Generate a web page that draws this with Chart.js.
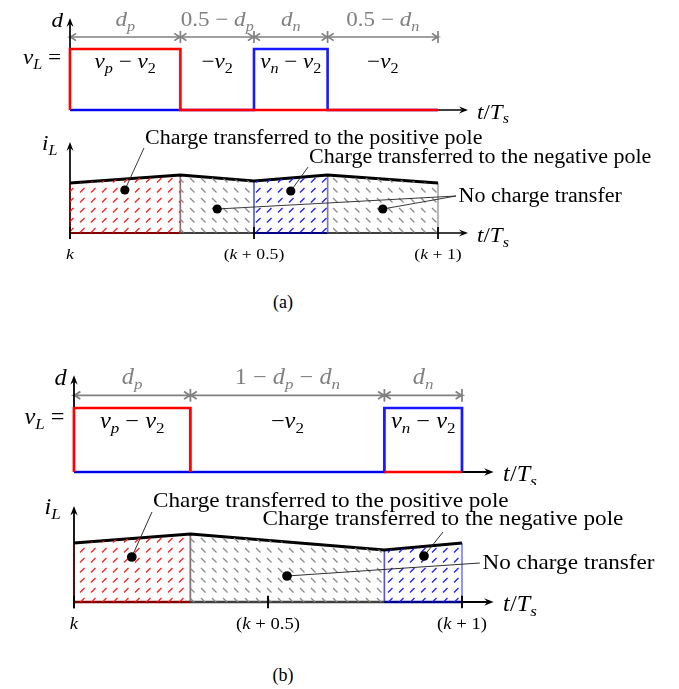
<!DOCTYPE html>
<html>
<head>
<meta charset="utf-8">
<script src="https://cdn.jsdelivr.net/npm/chart.js@4.4.1/dist/chart.umd.min.js"></script>
<style>
  body { margin: 0; background: #fff; }
  #fig { position: relative; width: 679px; height: 689px; overflow: hidden; }
  #fig canvas { position: absolute; left: 0; }
  .cap { position: absolute; font: 18px "Liberation Serif", serif; line-height: 18px; transform: translateX(-50%); }
</style>
</head>
<body>
<div id="fig">
  <canvas id="aTop" width="679" height="125" style="top:0"></canvas>
  <canvas id="aBot" width="679" height="160" style="top:125px"></canvas>
  <canvas id="bTop" width="679" height="130" style="top:355px"></canvas>
  <canvas id="bBot" width="679" height="165" style="top:485px"></canvas>
  <div class="cap" style="left:283px;top:293px">(a)</div>
  <div class="cap" style="left:283px;top:666px">(b)</div>
</div>
<script>
// ---- data (time in t/Ts, voltage and current normalized) ----
// (a) positive and negative pole each in its own half period
const edgesA = [0, 0.3, 0.5, 0.7, 1.0];
const currentA = [0.50, 0.58, 0.52, 0.58, 0.50];
const regionsA = ['pos', 'none', 'neg', 'none'];
const spanLabelsA = ['d_p', '0.5 − d_p', 'd_n', '0.5 − d_n'];
const voltLabelsA = ['v_p − v_2', '−v_2', 'v_n − v_2', '−v_2'];
const redWaveA = [[0, 0], [0, 1], [0.3, 1], [0.3, 0], [1, 0]];
const blueWaveA = [[0, 0], [0.5, 0], [0.5, 1], [0.7, 1], [0.7, 0], [1, 0]];

// (b) both poles in one period
const edgesB = [0, 0.3, 0.8, 1.0];
const currentB = [0.59, 0.68, 0.52, 0.59];
const regionsB = ['pos', 'none', 'neg'];
const spanLabelsB = ['d_p', '1 − d_p − d_n', 'd_n'];
const voltLabelsB = ['v_p − v_2', '−v_2', 'v_n − v_2'];
const redWaveB = [[0, 0], [0, 1], [0.3, 1], [0.3, 0], [0.3, null], [0.8, 0], [1, 0]];
const blueWaveB = [[0, 0], [0.8, 0], [0.8, 1], [1, 1], [1, 0]];

const tickValues = [0, 0.5, 1];
const tickLabels = ['k', '(k + 0.5)', '(k + 1)'];

const calloutText = ['Charge transferred to the positive pole',
                     'Charge transferred to the negative pole',
                     'No charge transfer'];
const calloutDotsA = [[[0.149, 0.43]], [[0.60, 0.42]], [[0.40, 0.24], [0.85, 0.24]]];
const calloutEndsA = [[0.201, 0.85], [0.647, 0.66], [1.049, 0.37]];
const calloutDotsB = [[[0.149, 0.45]], [[0.902, 0.46]], [[0.549, 0.26]]];
const calloutEndsB = [[0.201, 0.90], [0.951, 0.70], [1.046, 0.39]];

// ---- drawing helpers ----
const SERIF = '"Liberation Serif", "Times New Roman", serif';
const GRAY = '#808080';

function drawText(ctx, str, x, y, size, align, color, stretch, plain) {
  const runs = [];
  if (plain) runs.push({ ch: str, sub: false, it: false });
  else for (let i = 0; i < str.length; i++) {
    let ch = str[i], sub = false;
    if (ch === '_') { sub = true; ch = str[++i]; }
    runs.push({ ch, sub, it: /[A-Za-z]/.test(ch) });
  }
  const font = r => (r.it ? 'italic ' : '') + (r.sub ? size * 0.7 : size) + 'px ' + SERIF;
  let w = 0;
  runs.forEach(r => { ctx.font = font(r); r.w = ctx.measureText(r.ch).width * stretch; w += r.w; });
  let cx = align === 'right' ? x - w : align === 'center' ? x - w / 2 : x;
  ctx.save();
  ctx.fillStyle = color;
  ctx.textAlign = 'left';
  ctx.textBaseline = 'alphabetic';
  runs.forEach(r => {
    ctx.font = font(r);
    ctx.save();
    ctx.translate(cx, y + (r.sub ? size * 0.22 : 0));
    ctx.scale(stretch, 1);
    ctx.fillText(r.ch, 0, 0);
    ctx.restore();
    cx += r.w;
  });
  ctx.restore();
}

function seg(ctx, x1, y1, x2, y2) {
  ctx.beginPath(); ctx.moveTo(x1, y1); ctx.lineTo(x2, y2); ctx.stroke();
}

// filled arrow tip pointing along (dx, dy)
function arrowHead(ctx, x, y, dx, dy, s) {
  const len = 9 * s, wid = 7 * s, px = -dy, py = dx;
  ctx.beginPath();
  ctx.moveTo(x, y);
  ctx.lineTo(x - dx * len + px * wid / 2, y - dy * len + py * wid / 2);
  ctx.lineTo(x - dx * len * 0.65, y - dy * len * 0.65);
  ctx.lineTo(x - dx * len - px * wid / 2, y - dy * len - py * wid / 2);
  ctx.closePath();
  ctx.fill();
}

// open barb for the dimension arrows
function barb(ctx, x, y, dir, len) {
  ctx.beginPath();
  ctx.moveTo(x - dir * len, y - len * 0.6);
  ctx.quadraticCurveTo(x - dir * len * 0.35, y - len * 0.1, x, y);
  ctx.quadraticCurveTo(x - dir * len * 0.35, y + len * 0.1, x - dir * len, y + len * 0.6);
  ctx.stroke();
}

function axes(ctx, x0, yb, tipY, tipX, s, below) {
  ctx.save();
  ctx.strokeStyle = '#000'; ctx.fillStyle = '#000'; ctx.lineWidth = 1.7 * s;
  seg(ctx, x0, yb + below, x0, tipY + 4 * s);
  seg(ctx, x0, yb, tipX - 4 * s, yb);
  arrowHead(ctx, x0, tipY, 0, -1, s);
  arrowHead(ctx, tipX, yb, 1, 0, s);
  ctx.restore();
}

function hatch(color, dir) {
  const tile = document.createElement('canvas');
  tile.width = 11; tile.height = 10;
  const g = tile.getContext('2d');
  g.strokeStyle = color; g.lineWidth = 1.3;
  g.beginPath();
  if (dir > 0) { g.moveTo(3, 7.5); g.lineTo(7.5, 3); } else { g.moveTo(3, 3); g.lineTo(7.5, 7.5); }
  g.stroke();
  return g.createPattern(tile, 'repeat');
}

const STYLE = {
  pos:  { fill: hatch('#ff1a1a', 1),  base: '#800000', side: 'rgba(140,0,0,0.75)' },
  neg:  { fill: hatch('#1a1aff', 1),  base: '#000080', side: 'rgba(60,60,255,0.75)' },
  none: { fill: hatch('#8a8a8a', -1), base: '#404040', side: 'rgba(128,128,128,0.8)' }
};

function baseOptions(box) {
  return {
    responsive: false,
    animation: false,
    devicePixelRatio: 1,
    events: [],
    layout: { padding: { left: box.x0, right: 679 - box.x1, top: box.top, bottom: box.h - box.base } },
    plugins: { legend: { display: false }, tooltip: { enabled: false } },
    scales: {
      x: { type: 'linear', min: 0, max: 1, display: false },
      y: { min: 0, max: 1, display: false }
    }
  };
}

const xy = arr => arr.map(p => ({ x: p[0], y: p[1] }));

function voltageChart(id, box, s, d) {
  const wave = (pts, color) => ({
    data: xy(pts), borderColor: color, borderWidth: 2.6 * s, pointRadius: 0, fill: false,
    tension: 0, clip: false, borderJoinStyle: 'miter', borderCapStyle: 'butt'
  });
  return new Chart(document.getElementById(id), {
    type: 'line',
    data: { datasets: [wave(d.red, '#ff0000'), wave(d.blue, 'rgba(0,0,255,0.9)')] },
    options: baseOptions(box),
    plugins: [{
      id: 'decoTop',
      beforeDatasetsDraw(chart) {
        const { ctx, scales: { x, y } } = chart;
        const X = v => x.getPixelForValue(v), Y = v => y.getPixelForValue(v);
        const x0 = X(0), yb = Y(0), yt = Y(1), dy = yt - 12 * s;
        ctx.save();
        ctx.strokeStyle = GRAY; ctx.lineWidth = 1.7 * s;
        d.edges.slice(0, -1).forEach((e, i) => {
          const xa = X(e), xb = X(d.edges[i + 1]);
          seg(ctx, xa, dy, xb, dy);
          barb(ctx, xa, dy, -1, 6 * s);
          barb(ctx, xb, dy, 1, 6 * s);
          drawText(ctx, d.spans[i], (xa + xb) / 2, yt - 23 * s, 21 * s, 'center', GRAY, 1.1);
          drawText(ctx, d.volts[i], (xa + xb) / 2, yt + 19 * s, 21 * s, 'center', '#000', 1.1);
        });
        d.edges.slice(1).forEach(e => seg(ctx, X(e), dy - 6 * s, X(e), dy + 6 * s));
        ctx.restore();
        const tipX = X(1) + 30 * s;
        axes(ctx, x0, yb, yt - 31 * s, tipX, s, 0);
        drawText(ctx, 'd', x0 - 7 * s, yt - 22 * s, 21 * s, 'right', '#000', 1.1);
        drawText(ctx, 'v_L =', x0 - 9 * s, yt + 15 * s, 21 * s, 'right', '#000', 1.1);
        drawText(ctx, 't/T_s', tipX + 9 * s, yb + 8.5 * s, 21 * s, 'left', '#000', 1.1);
      }
    }]
  });
}

function currentChart(id, box, s, d) {
  const datasets = d.regions.map((r, i) => ({
    data: [{ x: d.edges[i], y: d.current[i] }, { x: d.edges[i + 1], y: d.current[i + 1] }],
    fill: 'origin', backgroundColor: STYLE[r].fill, borderColor: 'rgba(0,0,0,0)', borderWidth: 1,
    pointRadius: 0, tension: 0
  }));
  datasets.push({
    data: d.edges.map((e, i) => ({ x: e, y: d.current[i] })),
    borderColor: '#000', borderWidth: 3 * s, pointRadius: 0, fill: false, tension: 0, clip: false
  });
  return new Chart(document.getElementById(id), {
    type: 'line',
    data: { datasets },
    options: baseOptions(box),
    plugins: [{
      id: 'decoBottom',
      beforeDatasetsDraw(chart) {
        const { ctx, scales: { x, y } } = chart;
        const X = v => x.getPixelForValue(v), Y = v => y.getPixelForValue(v);
        const yb = Y(0);
        axes(ctx, X(0), yb, yb - 91 * s, X(1) + 30 * s, s, 6 * s);
        ctx.save();
        d.regions.forEach((r, i) => {
          const xa = X(d.edges[i]), xb = X(d.edges[i + 1]);
          ctx.strokeStyle = STYLE[r].side; ctx.lineWidth = 1.4 * s;
          seg(ctx, xa, yb, xa, Y(d.current[i]));
          seg(ctx, xb, yb, xb, Y(d.current[i + 1]));
          ctx.strokeStyle = STYLE[r].base; ctx.lineWidth = 2.2 * s;
          seg(ctx, xa, yb, xb, yb);
        });
        ctx.restore();
      },
      afterDatasetsDraw(chart) {
        const { ctx, scales: { x, y } } = chart;
        const X = v => x.getPixelForValue(v), Y = v => y.getPixelForValue(v);
        const yb = Y(0);
        ctx.save();
        ctx.strokeStyle = '#000'; ctx.lineWidth = 1.8 * s;
        tickValues.forEach((v, i) => {
          seg(ctx, X(v), yb - 6 * s, X(v), yb + 6 * s);
          drawText(ctx, tickLabels[i], X(v), yb + 25.5 * s, 15 * s, 'center', '#000', 1.18);
        });
        // callouts
        calloutText.forEach((txt, j) => {
          const ex = X(d.ends[j][0]), ey = Y(d.ends[j][1]);
          d.dots[j].forEach(p => {
            const px = X(p[0]), py = Y(p[1]);
            ctx.strokeStyle = '#222'; ctx.lineWidth = 0.9 * s;
            seg(ctx, px, py, ex, ey);
            ctx.fillStyle = '#000';
            ctx.beginPath(); ctx.arc(px, py, 4.6 * s, 0, Math.PI * 2); ctx.fill();
          });
          const a = d.anchors[j];
          if (a === 'sw') drawText(ctx, txt, ex + 1 * s, ey - 4.5 * s, 20 * s, 'left', '#000', 1.1, true);
          else if (a === 's') drawText(ctx, txt, ex, ey - 6.5 * s, 20 * s, 'center', '#000', 1.1, true);
          else drawText(ctx, txt, ex + 2.5 * s, ey + 5.5 * s, 20 * s, 'left', '#000', 1.1, true);
        });
        ctx.restore();
        drawText(ctx, 'i_L', X(0) - 28 * s, yb - 83 * s, 21 * s, 'left', '#000', 1.1);
        drawText(ctx, 't/T_s', X(1) + 39 * s, yb + 9 * s, 21 * s, 'left', '#000', 1.1);
      }
    }]
  });
}

const sA = 1, sB = 388 / 368;

voltageChart('aTop', { x0: 70, x1: 438, top: 49, base: 110, h: 125 }, sA,
  { edges: edgesA, red: redWaveA, blue: blueWaveA, spans: spanLabelsA, volts: voltLabelsA });
currentChart('aBot', { x0: 70, x1: 438, top: 8, base: 108, h: 160 }, sA,
  { edges: edgesA, current: currentA, regions: regionsA, dots: calloutDotsA, ends: calloutEndsA,
    anchors: ['sw', 'sw', 'w'] });
voltageChart('bTop', { x0: 74, x1: 462, top: 53, base: 117, h: 130 }, sB,
  { edges: edgesB, red: redWaveB, blue: blueWaveB, spans: spanLabelsB, volts: voltLabelsB });
currentChart('bBot', { x0: 74, x1: 462, top: 17, base: 117, h: 165 }, sB,
  { edges: edgesB, current: currentB, regions: regionsB, dots: calloutDotsB, ends: calloutEndsB,
    anchors: ['sw', 's', 'w'] });
</script>
</body>
</html>
